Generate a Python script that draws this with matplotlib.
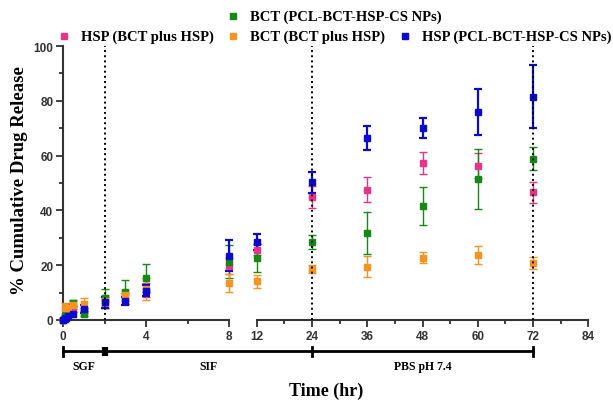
import matplotlib
matplotlib.use("Agg")
import matplotlib.pyplot as plt
from matplotlib.lines import Line2D
import numpy as np

# sampling times (hr)
times = [0, 0.083, 0.167, 0.25, 0.5, 1, 2, 3, 4, 8, 12, 24, 36, 48, 60, 72]

# HSP (BCT plus HSP)
hsp_free = [0, 1, 2, 3, 4, 3.5, 6.5, 8, 11, 19.8, 25.7, 44.8, 47.6, 57.2, 56.3, 46.6]
hsp_free_err = [0, 0.5, 0.5, 1, 1, 1, 2, 2, 2.5, 3, 2, 4, 4.7, 4, 4.5, 3.8]
# BCT (PCL-BCT-HSP-CS NPs)
bct_np = [0, 1.5, 3, 4.6, 6.2, 2.3, 7.9, 10.3, 15.4, 21.2, 22.7, 28.6, 31.8, 41.5, 51.5, 58.9]
bct_np_err = [0, 0.5, 1, 1, 1, 1, 3.4, 4.4, 5, 6, 5, 2.6, 7.6, 7, 11, 4.3]
# BCT (BCT plus HSP)
bct_free = [0, 4.7, 4.5, 4.5, 5.5, 6, 7, 9, 11.3, 13.5, 14.2, 18.5, 19.5, 22.7, 23.7, 20.7]
bct_free_err = [0, 1.5, 1.5, 1.5, 1.5, 2, 2, 2, 4, 3.2, 2.4, 1.5, 3.7, 2, 3.2, 2.2]
# HSP (PCL-BCT-HSP-CS NPs)
hsp_np = [0, 0.3, 0.8, 1.3, 2.2, 4, 6.4, 7, 10.7, 23.5, 28.4, 50.2, 66.4, 70, 75.8, 81.5]
hsp_np_err = [0, 0.2, 0.3, 0.5, 1.2, 1.5, 2, 1.5, 2, 5.6, 3, 3.8, 4.4, 3.7, 8.4, 11.4]

series = [
    ("HSP (BCT plus HSP)", hsp_free, hsp_free_err, "#e8338a", 1.0),
    ("BCT (PCL-BCT-HSP-CS NPs)", bct_np, bct_np_err, "#138a13", 1.0),
    ("BCT (BCT plus HSP)", bct_free, bct_free_err, "#f7931e", 1.0),
    ("HSP (PCL-BCT-HSP-CS NPs)", hsp_np, hsp_np_err, "#0a0ad0", 1.6),
]

phases = ["SGF", "SIF", "PBS pH 7.4"]
phase_edges = [0, 2, 24, 72]

serif = "Liberation Serif"
sans = "Liberation Sans"
axis_col = "#333333"

W, H = 613, 402
fig = plt.figure(figsize=(W / 100, H / 100), dpi=100)

def px(x0, y0, x1, y1):
    # pixel box (top-left origin) -> figure fraction rect
    return [x0 / W, 1 - y1 / H, (x1 - x0) / W, (y1 - y0) / H]

ax1 = fig.add_axes(px(63, 47, 229, 321))
ax2 = fig.add_axes(px(256.7, 47, 588.3, 321), sharey=ax1)

t = np.array(times)
for ax, mask in [(ax1, t <= 8), (ax2, t >= 12)]:
    for label, vals, errs, col, lw in series:
        v = np.array(vals)[mask]
        e = np.array(errs)[mask]
        ax.errorbar(t[mask], v, yerr=e, fmt="s", color=col, ms=4.2,
                    elinewidth=lw, capsize=3, capthick=lw, clip_on=False,
                    zorder=3)

ax1.set_xlim(0, 8)
ax2.set_xlim(12, 84)
ax1.set_ylim(0, 100)

ax1.axvline(2, color="black", ls=":", lw=1.4, zorder=5)
ax2.axvline(24, color="black", ls=":", lw=1.4, zorder=5)
ax2.axvline(72, color="black", ls=":", lw=1.4, zorder=5)

for ax in (ax1, ax2):
    ax.spines["top"].set_visible(False)
    ax.spines["right"].set_visible(False)
    ax.spines["bottom"].set_color(axis_col)
    ax.spines["bottom"].set_linewidth(1.5)
    ax.tick_params(which="both", colors=axis_col, width=1.3, direction="out")
    ax.tick_params(which="major", length=5, labelsize=8.5, pad=2)
    ax.tick_params(which="minor", length=3)

ax1.spines["left"].set_color(axis_col)
ax1.spines["left"].set_linewidth(1.5)
ax2.spines["left"].set_visible(False)
ax2.tick_params(axis="y", which="both", left=False, labelleft=False)

ax1.set_xticks([0, 4, 8])
ax1.set_xticks([2, 6], minor=True)
ax2.set_xticks(np.arange(12, 85, 12))
ax2.set_xticks(np.arange(18, 85, 12), minor=True)
ax1.set_yticks(np.arange(0, 101, 20))
ax1.set_yticks(np.arange(10, 100, 20), minor=True)
for ax in (ax1, ax2):
    for lab in ax.get_xticklabels() + ax.get_yticklabels():
        lab.set_fontfamily(sans)
        lab.set_fontweight("bold")

fig.text(20 / W, 1 - 181 / H, "% Cumulative Drug Release", rotation=90,
         ha="center", va="center", fontsize=13.5, fontweight="bold", family=serif)
fig.text(326 / W, 1 - 391 / H, "Time (hr)", ha="center", va="center",
         fontsize=13, fontweight="bold", family=serif)

# phase bar under the axis
def fig_x(x):
    ax = ax1 if x <= 8 else ax2
    d = ax.transData.transform((x, 0))
    return fig.transFigure.inverted().transform(d)[0]

bar_y = 1 - 352 / H
cap = 4.5 / H
xs = [fig_x(v) for v in phase_edges]
fig.add_artist(Line2D([xs[0], xs[-1]], [bar_y, bar_y], color="black", lw=2))
for i, xv in enumerate(xs):
    if i == 1:
        fig.add_artist(Line2D([xv, xv], [bar_y - cap, bar_y + cap],
                              color="black", lw=4.5, solid_capstyle="butt"))
    else:
        fig.add_artist(Line2D([xv, xv], [bar_y - cap, bar_y + cap],
                              color="black", lw=2))
for name, a, b in zip(phases, xs[:-1], xs[1:]):
    fig.text((a + b) / 2, 1 - 367 / H, name, ha="center", va="center",
             fontsize=8.5, fontweight="bold", family=serif)

# legend, laid out like the original (one entry on top, three below)
legend_pos = {
    "BCT (PCL-BCT-HSP-CS NPs)": (233, 17),
    "HSP (BCT plus HSP)": (64, 37),
    "BCT (BCT plus HSP)": (233, 37),
    "HSP (PCL-BCT-HSP-CS NPs)": (405, 37),
}
for label, vals, errs, col, lw in series:
    mx, my = legend_pos[label]
    fig.add_artist(Line2D([mx / W], [1 - my / H], marker="s", ms=4,
                          color=col, ls="none"))
    fig.text((mx + 17) / W, 1 - my / H, label, ha="left", va="center",
             fontsize=10.5, fontweight="bold", family=serif)

fig.savefig("out.png", dpi=100)
